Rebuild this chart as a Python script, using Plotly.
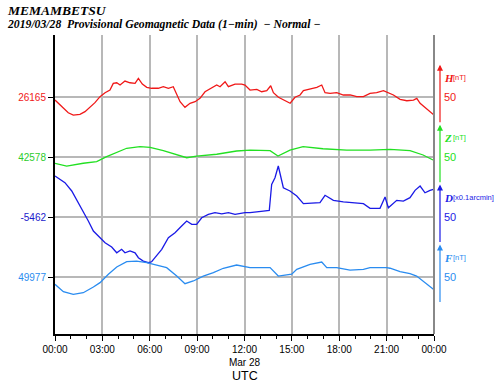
import plotly.graph_objects as go

# ---------------- data (hours UTC, values) ----------------
h_time = [0, 0.42, 0.84, 1.16, 1.58, 1.9, 2.22, 2.53, 2.85, 3.17, 3.48, 3.69, 3.91, 4.12, 4.43,
          4.75, 5.07, 5.28, 5.53, 5.81, 6.12, 6.54, 6.86, 7.18, 7.49, 7.71, 7.92, 8.23, 8.55,
          8.87, 9.18, 9.5, 9.92, 10.24, 10.45, 10.77, 10.98, 11.4, 11.82, 12.03,
          12.35, 12.78, 13.09, 13.41, 13.66, 13.83, 14.15, 14.57, 14.89, 15.2, 15.52, 15.73,
          16.15, 16.58, 16.89, 17.1, 17.42, 17.84, 18.26, 18.69, 19.11, 19.53, 19.95, 20.37,
          20.8, 21.11, 21.43, 21.85, 22.28, 22.7, 22.91, 23.12, 23.44, 23.75, 24.0]
h_vals = [26162.5, 26156.9, 26151.9, 26150, 26150.6, 26152.8, 26156.9, 26160.3, 26165.3,
          26168.6, 26170.8, 26176.4, 26176.9, 26175, 26178.3, 26176.9, 26176.4, 26180.6,
          26175.8, 26173.1, 26172.3, 26172.3, 26173.6, 26172.3, 26173.6, 26166.7, 26161.1,
          26156.4, 26159.8, 26161.1, 26163.9, 26169.4, 26172.3, 26175, 26173.6, 26177.8,
          26173.6, 26175.8, 26175.8, 26175,
          26170.8, 26171.4, 26169.4, 26170.3, 26174.4, 26168.6, 26164.8, 26161.9, 26159.8,
          26164.8, 26166.7, 26170.3, 26171.4, 26173.1, 26175, 26168.6, 26168.1, 26168.6,
          26166.7, 26166.7, 26165.3, 26165.3, 26168.1, 26168.6, 26170.3, 26168.6, 26166.7,
          26163.1, 26161.9, 26162.5, 26163.9, 26159.8, 26156.4, 26152.8, 26150]

z_time = [0, 0.74, 1.79, 2.64, 3.27, 3.91, 4.54, 5.38, 6.02, 6.86, 7.71, 8.34, 8.97, 10.24,
          11.5, 12.35, 13.62, 14.12, 14.88, 15.71, 16.97, 18.47, 19.95, 21.22, 22.48, 23.31, 23.94]
z_vals = [42572.8, 42570.5, 42572.8, 42574.1, 42578.3, 42581.6, 42585.3, 42586.6, 42586.1,
          42583.3, 42579.7, 42577.4, 42578.8, 42580.3, 42583, 42583.8, 42583.3, 42578.8,
          42583.8, 42586.6, 42584.9, 42583.8, 42583.8, 42584.4, 42583.3, 42579.7, 42575.5]

d_time = [0, 0.63, 1.06, 1.48, 1.79, 2.11, 2.43, 2.64, 2.85, 3.17, 3.59, 3.91, 4.22, 4.43,
          4.75, 5.07, 5.28, 5.59, 5.91, 6.12, 6.33, 6.76, 7.18, 7.6, 8.02, 8.34, 8.66, 8.97,
          9.29, 9.71, 10.13, 10.56, 10.98, 11.4, 12.03,
          12.35, 13.19, 13.57, 13.72, 13.93, 14.14, 14.46, 14.88, 15.31, 15.73, 16.36, 16.78,
          17.1, 17.63, 18.26, 18.89, 19.53, 19.95, 20.58, 20.9, 21.11, 21.64, 22.06, 22.48,
          22.8, 23.12, 23.43, 23.75, 23.96]
d_vals = [-5427.8, -5433.4, -5440.3, -5450.1, -5458.4, -5465.3, -5473.7, -5476.4, -5479.3,
          -5483.4, -5487, -5491.8, -5488.9, -5491.8, -5490.3, -5491.8, -5495.9, -5498.7,
          -5500.1, -5499.3, -5495.9, -5488.9, -5479.3, -5475.1, -5469.5, -5465.3, -5468.1,
          -5468.1, -5462.6, -5459.8, -5458.4, -5459.3, -5458.4, -5459.8, -5458.4,
          -5458.4, -5457, -5456.4, -5434.8, -5429.3, -5419.5, -5437.6, -5440.3, -5444.5,
          -5450.9, -5450.1, -5450.1, -5443.9, -5448.1, -5449.3, -5450.1, -5450.9, -5454.8,
          -5454.8, -5445.3, -5454.3, -5448.1, -5448.7, -5445.9, -5439.8, -5436.2, -5441.8,
          -5439.8, -5438.9]

f_time = [0, 0.53, 1.16, 1.79, 2.43, 2.85, 3.38, 3.91, 4.54, 5.17, 5.81, 6.44, 7.07, 7.71,
          8.23, 8.76, 9.39, 10.03, 10.66, 11.5, 12.35, 12.77, 13.62, 14.14, 14.99, 15.31,
          16.15, 16.89, 17.21, 17.84, 18.68, 19.53, 19.95, 21.0, 21.22, 21.85, 22.48, 22.9,
          23.32, 23.96]
f_vals = [49970.9, 49964.8, 49962.6, 49963.9, 49968.7, 49972.3, 49979.3, 49985.3, 49989.8,
          49990.3, 49988.9, 49986.8, 49984.8, 49977.8, 49971.4, 49973.7, 49977.8, 49980.6,
          49984.3, 49987, 49984.8, 49984.8, 49984.8, 49977.8, 49979.3, 49983.4, 49987.6,
          49989.5, 49984.8, 49984.8, 49982.8, 49983.4, 49984.8, 49984.8, 49984.3, 49981.4,
          49979.8, 49977.8, 49973.7, 49966.8]

components = ["H", "Z", "D", "F"]
baselines = [26165, 42578, -5462, 49977]
units = ["[nT]", "[nT]", "[x0.1arcmin]", "[nT]"]
scale_labels = ["50", "50", "50", "50"]
colors = ["#f01818", "#22e022", "#1a1ae6", "#2a8cf0"]
label_colors = ["#f01818", "#2ccc2c", "#1a1acc", "#2a8cf0"]
x_tick_vals = [0, 3, 6, 9, 12, 15, 18, 21, 24]
x_tick_text = ["00:00", "03:00", "06:00", "09:00", "12:00<br>Mar 28", "15:00", "18:00", "21:00", "00:00"]

series = [(h_time, h_vals), (z_time, z_vals), (d_time, d_vals), (f_time, f_vals)]
offsets = [0, -50, -100, -150]  # one grid division = 50 units

fig = go.Figure()
for (t, v), base, off, col in zip(series, baselines, offsets, colors):
    fig.add_trace(go.Scatter(x=t, y=[val - base + off for val in v], mode="lines",
                             line=dict(color=col, width=1.3), hoverinfo="skip", showlegend=False))

W_PLOT = 379.0
H_PLOT = 299.0
def px(x):
    return (x - 55) / W_PLOT

annotations = []
for comp, unit, sl, col, off in zip(components, units, scale_labels, colors, offsets):
    annotations.append(dict(x=px(440), y=off + 27, xref="paper", yref="y", text="",
                            showarrow=True, ax=0, ay=59, arrowcolor=col, arrowwidth=1.2,
                            arrowhead=2, arrowsize=1))
    annotations.append(dict(x=px(442), y=off + 16, xref="paper", yref="y",
                            text="<b><i>%s</i></b>" % comp, showarrow=False, xanchor="left",
                            font=dict(family="Liberation Serif", size=11, color=col)))
    annotations.append(dict(x=px(451), y=off + 16.5, xref="paper", yref="y", text=unit,
                            showarrow=False, xanchor="left",
                            font=dict(family="Liberation Sans", size=7.5, color=col)))
    annotations.append(dict(x=px(442), y=off, xref="paper", yref="y", text=sl,
                            showarrow=False, xanchor="left",
                            font=dict(family="Liberation Sans", size=11, color=col)))

annotations.append(dict(x=0.5, y=(334 - 376) / H_PLOT, xref="paper", yref="paper", text="UTC",
                        showarrow=False, yanchor="middle",
                        font=dict(family="Liberation Sans", size=12.5, color="black")))

fig.update_layout(
    width=500, height=383,
    margin=dict(l=55, r=66, t=35, b=49, autoexpand=False),
    paper_bgcolor="white", plot_bgcolor="white",
    annotations=annotations,
    xaxis=dict(range=[0, 24], tickvals=x_tick_vals, ticktext=x_tick_text, automargin=False,
               ticks="outside", ticklen=5, tickcolor="black", tickwidth=1,
               showgrid=True, gridcolor="#b8b8b8", gridwidth=1.5,
               showline=True, linecolor="black", linewidth=2, zeroline=False,
               minor=dict(tickvals=list(range(25)), ticks="outside", ticklen=3,
                          tickcolor="black", showgrid=False),
               tickfont=dict(family="Liberation Sans", size=10, color="black")),
    yaxis=dict(range=[-197.5, 51.7], tickvals=offsets, automargin=False,
               ticktext=['<span style="color:%s">%d</span>' % (c, b)
                         for c, b in zip(label_colors, baselines)],
               ticks="outside", ticklen=5, tickcolor="black",
               showgrid=True, gridcolor="#b8b8b8", gridwidth=1.5,
               showline=True, linecolor="black", linewidth=2, zeroline=False,
               tickfont=dict(family="Liberation Sans", size=10)),
    shapes=[dict(type="line", xref="paper", yref="paper", x0=1, x1=1, y0=0, y1=1,
                 line=dict(color="#888888", width=2))],
)

fig.add_annotation(x=-50 / W_PLOT, y=1, yref="paper", xref="paper",
                   yanchor="bottom", xanchor="left", yshift=15, showarrow=False,
                   text="<b><i>MEMAMBETSU</i></b>",
                   font=dict(family="Liberation Serif", size=13.5, color="black"))
fig.add_annotation(x=-50 / W_PLOT, y=1, yref="paper", xref="paper",
                   yanchor="bottom", xanchor="left", yshift=2, showarrow=False,
                   text="<b><i>2019/03/28  Provisional Geomagnetic Data (1\u2212min)  \u2212 Normal \u2212</i></b>",
                   font=dict(family="Liberation Serif", size=11.7, color="black"))

fig.write_html("out.html", config={"displayModeBar": False},
               post_script="document.body.style.margin='0';")
